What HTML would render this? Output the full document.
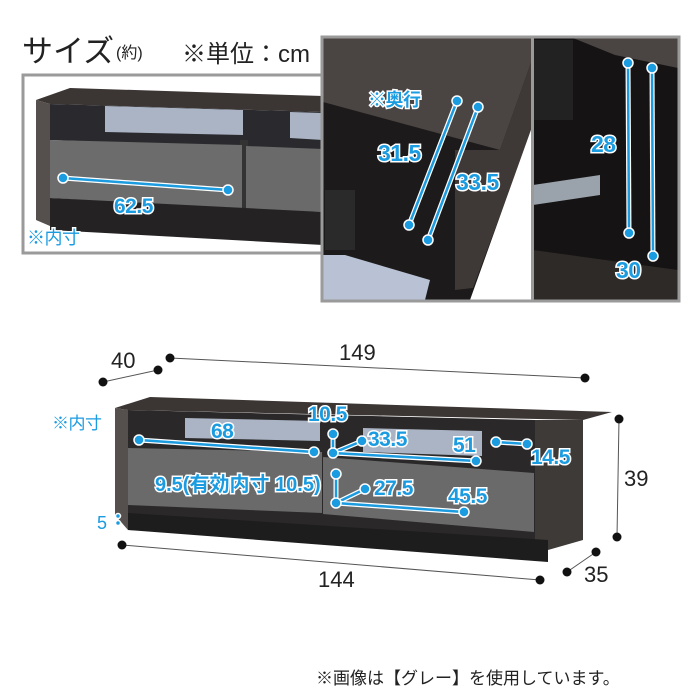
<!DOCTYPE html>
<html><head><meta charset="utf-8"><style>
html,body{margin:0;padding:0;background:#fff;width:700px;height:700px;overflow:hidden}
svg{display:block}
.b{font-family:"Liberation Sans","Noto Sans CJK JP",sans-serif;font-weight:bold;fill:#1b9be0;stroke:#fff;stroke-width:3;paint-order:stroke;letter-spacing:-0.5px}
.k{font-family:"Liberation Sans","Noto Sans CJK JP",sans-serif;fill:#222}
.bl{stroke:#fff;stroke-width:5;fill:none}
.bi{stroke:#1b9be0;stroke-width:2.5;fill:none}
</style></head><body>
<svg width="700" height="700" viewBox="0 0 700 700">
<!-- title -->
<text x="22" y="62" class="k" font-size="31">サイズ</text>
<text x="116" y="58" class="k" font-size="16">(約)</text>
<text x="182" y="62" class="k" font-size="24">※単位：cm</text>

<!-- left photo -->
<rect x="23" y="75" width="300" height="178" fill="#fff" stroke="#9a9a9a" stroke-width="3"/>
<polygon points="36,100 70,88 323,96 323,112 50,104" fill="#3b3533"/>
<polygon points="36,100 50,104 50,226 36,220" fill="#55504e"/>
<polygon points="50,104 323,112 323,150 50,140" fill="#2a2a2e"/>
<polygon points="105,106 243,110 243,135 105,132" fill="#aab4c4"/>
<polygon points="290,112 323,113 323,140 290,138" fill="#aab4c4"/>
<rect x="240" y="140" width="8" height="75" fill="#333"/>
<polygon points="50,140 242,145 242,210 50,198" fill="#6c6c6c"/>
<polygon points="246,146 323,149 323,212 246,210" fill="#6a6a6a"/>
<polygon points="50,198 323,212 323,245 50,230" fill="#242222"/>
<line x1="63" y1="178" x2="228" y2="190" class="bl" stroke-width="6"/>
<line x1="63" y1="178" x2="228" y2="190" class="bi"/>
<circle cx="63" cy="178" r="5" fill="#1b9be0" stroke="#fff" stroke-width="1.5"/>
<circle cx="228" cy="190" r="5" fill="#1b9be0" stroke="#fff" stroke-width="1.5"/>
<text x="114" y="213" class="b" font-size="21">62.5</text>
<text x="27" y="244" class="b" font-size="18" style="font-weight:normal">※内寸</text>

<!-- middle photo -->
<rect x="323" y="38" width="209" height="262" fill="#1c1a1a"/>
<polygon points="323,38 532,38 532,60 500,150 323,102" fill="#4a4442"/>
<polygon points="500,150 532,60 532,130 473,288 455,290 455,150" fill="#3e3836"/>
<polygon points="532,127 532,300 470,300" fill="#fff"/>
<polygon points="323,255 345,255 430,280 425,300 323,300" fill="#b8c2d4"/>
<rect x="325" y="190" width="30" height="60" fill="#2a2a2a"/>
<line x1="457" y1="101" x2="409" y2="225" class="bl"/><line x1="457" y1="101" x2="409" y2="225" class="bi"/>
<line x1="478" y1="107" x2="428" y2="240" class="bl"/><line x1="478" y1="107" x2="428" y2="240" class="bi"/>
<g fill="#1b9be0" stroke="#fff" stroke-width="1.5"><circle cx="457" cy="101" r="5"/><circle cx="409" cy="225" r="5"/><circle cx="478" cy="107" r="5"/><circle cx="428" cy="240" r="5"/></g>
<text x="368" y="106" class="b" font-size="18">※奥行</text>
<text x="378" y="161" class="b" font-size="23">31.5</text>
<text x="456" y="190" class="b" font-size="23">33.5</text>

<!-- right photo -->
<rect x="533" y="38" width="145" height="262" fill="#151313"/>
<polygon points="573,38 678,38 678,68 615,55" fill="#4a4442"/>
<rect x="533" y="40" width="40" height="80" fill="#222"/>
<polygon points="533,185 600,175 600,195 533,205" fill="#9aa2ac"/>
<polygon points="533,250 678,270 678,300 533,300" fill="#2e2a28"/>
<line x1="628" y1="63" x2="629" y2="233" class="bl"/><line x1="628" y1="63" x2="629" y2="233" class="bi"/>
<line x1="652" y1="68" x2="653" y2="256" class="bl"/><line x1="652" y1="68" x2="653" y2="256" class="bi"/>
<g fill="#1b9be0" stroke="#fff" stroke-width="1.5"><circle cx="628" cy="63" r="5"/><circle cx="629" cy="233" r="5"/><circle cx="652" cy="68" r="5"/><circle cx="653" cy="256" r="5"/></g>
<text x="591" y="152" class="b" font-size="23">28</text>
<text x="616" y="278" class="b" font-size="23">30</text>
<rect x="531" y="38" width="3" height="262" fill="#9a9a9a"/>
<rect x="322" y="37" width="357" height="264" fill="none" stroke="#9a9a9a" stroke-width="3"/>

<!-- main stand -->
<polygon points="115,408 150,397 612,412 583,420 128,410" fill="#3b3533"/>
<polygon points="115,408 128,410 128,530 115,515" fill="#55504e"/>
<polygon points="535,420 583,420 583,540 548,550 535,540" fill="#3e3a38"/>
<polygon points="128,410 535,420 535,545 128,530" fill="#2a2828"/>
<polygon points="185,418 320,421 320,441 185,438" fill="#aab4c4"/>
<polygon points="363,428 482,431 482,456 363,452" fill="#aab4c4"/>
<polygon points="128,448 322,452 322,513 128,505" fill="#6a6a6a"/>
<polygon points="323,457 534,473 534,532 323,514" fill="#6a6a6a"/>
<polygon points="128,513 548,540 548,562 128,530" fill="#1e1d1d"/>

<!-- blue dims -->
<g>
<polyline points="139,440 314,452" class="bl"/><polyline points="139,440 314,452" class="bi"/>
<polyline points="333,434 333,453 362,441" class="bl"/><polyline points="333,434 333,453 362,441" class="bi"/>
<polyline points="333,453 476,461" class="bl"/><polyline points="333,453 476,461" class="bi"/>
<polyline points="496,442 527,444" class="bl"/><polyline points="496,442 527,444" class="bi"/>
<polyline points="336,474 336,503 365,489" class="bl"/><polyline points="336,474 336,503 365,489" class="bi"/>
<polyline points="336,503 464,512" class="bl"/><polyline points="336,503 464,512" class="bi"/>
</g>
<g fill="#1b9be0" stroke="#fff" stroke-width="1.5">
<circle cx="139" cy="440" r="5"/><circle cx="314" cy="452" r="5"/><circle cx="333" cy="434" r="5"/><circle cx="333" cy="453" r="5"/><circle cx="362" cy="441" r="5"/><circle cx="476" cy="461" r="5"/><circle cx="496" cy="442" r="5"/><circle cx="527" cy="444" r="5"/><circle cx="336" cy="474" r="5"/><circle cx="336" cy="503" r="5"/><circle cx="365" cy="489" r="5"/><circle cx="464" cy="512" r="5"/><circle cx="118" cy="516" r="2.5"/><circle cx="118" cy="523" r="2.5"/>
</g>
<text x="211" y="438" class="b" font-size="21">68</text>
<text x="308" y="421" class="b" font-size="21">10.5</text>
<text x="368" y="446" class="b" font-size="21">33.5</text>
<text x="453" y="452" class="b" font-size="21">51</text>
<text x="531" y="464" class="b" font-size="21">14.5</text>
<text x="155" y="491" class="b" font-size="20" style="letter-spacing:0">9.5(有効内寸 10.5)</text>
<text x="374" y="495" class="b" font-size="21">27.5</text>
<text x="448" y="503" class="b" font-size="21">45.5</text>
<text x="97" y="529" class="b" font-size="18" style="font-weight:normal">5</text>
<text x="52" y="429" class="b" font-size="17" style="font-weight:normal">※内寸</text>

<!-- black dims -->
<g stroke="#555" stroke-width="1">
<line x1="170" y1="358" x2="585" y2="378"/>
<line x1="103" y1="382" x2="158" y2="370"/>
<line x1="122" y1="545" x2="540" y2="580"/>
<line x1="567" y1="572" x2="596" y2="552"/>
<line x1="619" y1="419" x2="617" y2="537"/>
</g>
<g fill="#111">
<circle cx="170" cy="358" r="4.5"/><circle cx="585" cy="378" r="4.5"/><circle cx="103" cy="382" r="4.5"/><circle cx="158" cy="370" r="4.5"/><circle cx="122" cy="545" r="4.5"/><circle cx="540" cy="580" r="4.5"/><circle cx="567" cy="572" r="4.5"/><circle cx="596" cy="552" r="4.5"/><circle cx="619" cy="419" r="4.5"/><circle cx="617" cy="537" r="4.5"/>
</g>
<text x="339" y="360" class="k" font-size="22">149</text>
<text x="111" y="368" class="k" font-size="22">40</text>
<text x="318" y="587" class="k" font-size="22">144</text>
<text x="584" y="582" class="k" font-size="22">35</text>
<text x="624" y="486" class="k" font-size="22">39</text>

<text x="316" y="684" class="k" font-size="17">※画像は【グレー】を使用しています。</text>
</svg>
</body></html>
